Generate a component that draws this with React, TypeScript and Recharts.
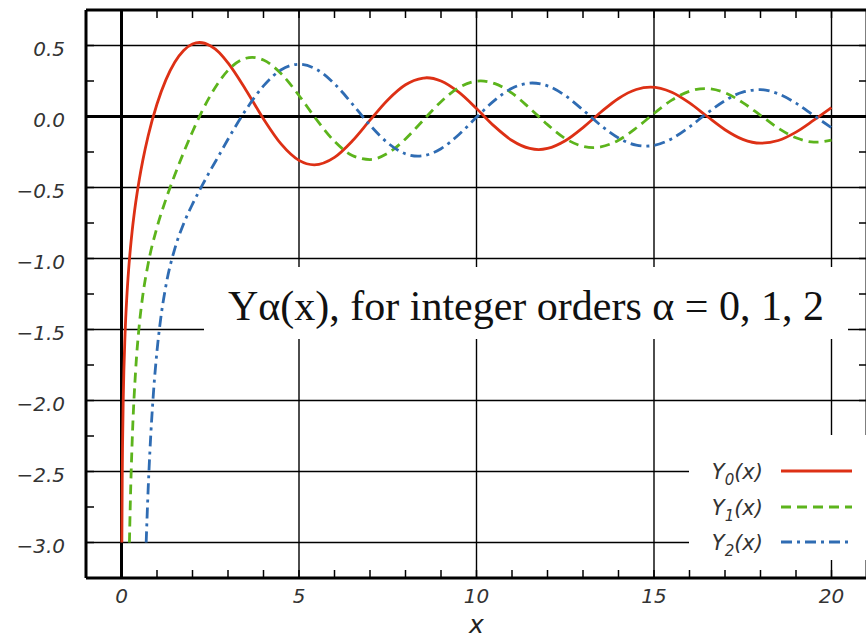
import { LineChart, Line, XAxis, YAxis, ReferenceLine } from 'recharts';

// Y0(x): sample positions and values (extrema included)
const y0X = [
  0.01, 0.02, 0.03, 0.05, 0.1, 0.15, 0.2, 0.25, 0.3, 0.4, 0.5, 0.6, 0.75, 1, 1.25, 1.5, 1.75, 2, 2.2, 2.5, 2.75, 3,
  3.5, 4, 4.5, 5, 5.43, 6, 6.5, 7, 7.5, 8, 8.5, 8.6, 9, 9.5, 10, 10.5, 11, 11.5, 11.75, 12, 12.5, 13, 13.5,
  14, 14.5, 14.9, 15.5, 16, 16.5, 17, 17.5, 18, 18.5, 19, 19.5, 20,
];
const y0Val = [
  -3.0, -2.564, -2.306, -1.979, -1.534, -1.271, -1.081, -0.932, -0.807, -0.606, -0.445, -0.309, -0.137, 0.088,
  0.258, 0.382, 0.465, 0.51, 0.521, 0.498, 0.451, 0.377,
  0.189, -0.017, -0.195, -0.309, -0.34, -0.288, -0.173, -0.026, 0.117, 0.224, 0.27, 0.273, 0.25, 0.171, 0.056,
  -0.068, -0.169, -0.225, -0.233, -0.225, -0.171, -0.078, 0.03,
  0.127, 0.19, 0.207, 0.171, 0.096, 0.0, -0.093, -0.161, -0.188, -0.169, -0.11, -0.026, 0.063,
];

// Y1(x)
const y1X = [
  0.2235, 0.25, 0.3, 0.4, 0.5, 0.6, 0.75, 1, 1.25, 1.5, 1.75, 2, 2.25, 2.5, 2.75, 3,
  3.5, 3.68, 4, 4.5, 5, 5.5, 6, 6.5, 7, 7.5, 8, 8.5, 9, 9.5, 10, 10.12, 10.5, 11, 11.5, 12, 12.5, 13, 13.29,
  13.5, 14, 14.5, 15, 15.5, 16, 16.44, 17, 17.5, 18, 18.5, 19, 19.5, 19.59, 20,
];
const y1Val = [
  -3.0, -2.704, -2.293, -1.781, -1.471, -1.26, -1.038, -0.781, -0.584, -0.412, -0.254, -0.107, 0.028, 0.146, 0.246, 0.325,
  0.41, 0.417, 0.398, 0.301, 0.148, -0.024, -0.175, -0.274, -0.303, -0.259, -0.158, -0.026, 0.104, 0.203, 0.249,
  0.251, 0.233, 0.164, 0.058, -0.057, -0.155, -0.21, -0.219,
  -0.214, -0.167, -0.081, 0.021, 0.115, 0.178, 0.197, 0.167, 0.098, 0.008, -0.082, -0.15, -0.18, -0.18, -0.166,
];

// Y2(x)
const y2X = [
  0.695, 0.75, 0.8, 0.9, 1, 1.1, 1.25, 1.5, 1.75, 2, 2.25, 2.5, 2.75, 3,
  3.5, 4, 4.5, 5, 5.5, 6, 6.5, 7, 7.5, 8, 8.35, 8.5, 9, 9.5, 10, 10.5, 11, 11.5, 11.57, 12, 12.5, 13, 13.5,
  14, 14.5, 14.76, 15, 15.5, 16, 16.5, 17, 17.5, 18, 18.5, 19, 19.5, 20,
];
const y2Val = [
  -3.0, -2.63, -2.359, -1.946, -1.651, -1.432, -1.193, -0.932, -0.755, -0.617, -0.496, -0.381, -0.272, -0.16,
  0.045, 0.216, 0.329, 0.368, 0.331, 0.23, 0.089, -0.061, -0.186, -0.263, -0.279, -0.276, -0.227, -0.128, -0.006,
  0.112, 0.199, 0.235, 0.236, 0.216, 0.147, 0.046, -0.062,
  -0.151, -0.202, -0.209, -0.203, -0.156, -0.073, 0.024, 0.112, 0.172, 0.189, 0.16, 0.094, 0.007, -0.079,
];

const xTicks = [-1, 0, 1, 2, 3, 4, 5, 6, 7, 8, 9, 10, 11, 12, 13, 14, 15, 16, 17, 18, 19, 20, 21];
const yTicks = [-3.25, -3, -2.75, -2.5, -2.25, -2, -1.75, -1.5, -1.25, -1, -0.75, -0.5, -0.25, 0, 0.25, 0.5, 0.75];
const xGrid = [5, 10, 15, 20];
const yGrid = [-3, -2.5, -2, -1.5, -1, -0.5, 0.5];

const X_DOMAIN: [number, number] = [-1, 21];
const Y_DOMAIN: [number, number] = [-3.25, 0.75];

const toPoints = (xs: number[], ys: number[]) => xs.map((x, i) => ({ x, y: ys[i] }));

const series = [
  { name: '0', data: toPoints(y0X, y0Val), color: '#dd3015', dash: undefined },
  { name: '1', data: toPoints(y1X, y1Val), color: '#5cb41c', dash: '10 6' },
  { name: '2', data: toPoints(y2X, y2Val), color: '#2f6cb3', dash: '11 5 3 5' },
];

const tickFont = { fontFamily: 'DejaVu Sans', fontStyle: 'italic', fontSize: 20, fill: '#333' };

const fmtX = (v: number) => (v % 5 === 0 ? String(v) : '');
const fmtY = (v: number) => {
  if (Math.abs(v * 2 - Math.round(v * 2)) > 1e-9) return '';
  return (v < 0 ? '\u2212' : '') + Math.abs(v).toFixed(1);
};
const blank = () => '';

function Legend() {
  const rows = [
    { sub: '0', color: series[0].color, dash: series[0].dash, y: 36 },
    { sub: '1', color: series[1].color, dash: series[1].dash, y: 72 },
    { sub: '2', color: series[2].color, dash: series[2].dash, y: 107 },
  ];
  return (
    <div style={{ position: 'absolute', left: 689, top: 435, width: 177, height: 125, background: '#fff' }}>
      <svg width={177} height={125}>
        {rows.map((r) => (
          <g key={r.sub}>
            <text x={74} y={r.y + 8} textAnchor="end" fontFamily="DejaVu Sans" fontStyle="italic" fontSize={21} fill="#333">
              Y<tspan dy={6} fontSize={15}>{r.sub}</tspan>
              <tspan dy={-6}>(x)</tspan>
            </text>
            <line x1={92} x2={163} y1={r.y} y2={r.y} stroke={r.color} strokeWidth={3} strokeDasharray={r.dash} />
          </g>
        ))}
      </svg>
    </div>
  );
}

export default function App() {
  return (
    <div style={{ position: 'absolute', left: 0, top: 0, width: 866, height: 639, overflow: 'hidden', background: '#fff' }}>
      <LineChart width={868} height={639} margin={{ top: 0, right: 0, bottom: 0, left: 0 }}>
        <XAxis
          type="number"
          dataKey="x"
          domain={X_DOMAIN}
          allowDataOverflow
          ticks={xTicks}
          interval={0}
          tickFormatter={fmtX}
          axisLine={false}
          tickSize={-8}
          tickMargin={19}
          tickLine={{ stroke: '#000', strokeWidth: 1.5 }}
          tick={tickFont}
          height={61}
          label={{ value: 'x', position: 'insideBottom', offset: 6, fontFamily: 'DejaVu Sans', fontStyle: 'italic', fontSize: 25, fill: '#222' }}
        />
        <XAxis
          xAxisId="top"
          orientation="top"
          type="number"
          dataKey="x"
          domain={X_DOMAIN}
          allowDataOverflow
          ticks={xTicks}
          interval={0}
          tickFormatter={blank}
          axisLine={false}
          tickSize={-8}
          tickLine={{ stroke: '#000', strokeWidth: 1.5 }}
          height={10}
        />
        <YAxis
          type="number"
          domain={Y_DOMAIN}
          allowDataOverflow
          ticks={yTicks}
          interval={0}
          tickFormatter={fmtY}
          axisLine={false}
          tickSize={-8}
          tickMargin={29}
          tickLine={{ stroke: '#000', strokeWidth: 1.5 }}
          tick={{ ...tickFont, dy: 3 }}
          width={86}
        />
        <YAxis
          yAxisId="right"
          orientation="right"
          type="number"
          domain={Y_DOMAIN}
          allowDataOverflow
          ticks={yTicks}
          interval={0}
          tickFormatter={blank}
          axisLine={false}
          tickSize={-8}
          tickLine={{ stroke: '#000', strokeWidth: 1.5 }}
          width={1}
        />

        {xGrid.map((v) => (
          <ReferenceLine key={'gx' + v} x={v} stroke="#000" strokeWidth={1.4} />
        ))}
        {yGrid.map((v) => (
          <ReferenceLine key={'gy' + v} y={v} stroke="#000" strokeWidth={1.4} />
        ))}
        <ReferenceLine x={0} stroke="#000" strokeWidth={3} />
        <ReferenceLine y={0} stroke="#000" strokeWidth={3} />

        {series.map((s) => (
          <Line
            key={s.name}
            data={s.data}
            dataKey="y"
            type="monotone"
            stroke={s.color}
            strokeWidth={2.8}
            strokeDasharray={s.dash}
            dot={false}
            activeDot={false}
            isAnimationActive={false}
          />
        ))}

        <ReferenceLine x={-1} stroke="#000" strokeWidth={3} />
        <ReferenceLine x={21} stroke="#000" strokeWidth={3} />
        <ReferenceLine y={0.75} stroke="#000" strokeWidth={3} />
        <ReferenceLine y={-3.25} stroke="#000" strokeWidth={3} />
      </LineChart>

      <div style={{ position: 'absolute', left: 204, top: 267, width: 644, height: 72, background: '#fff' }}>
        <svg width={644} height={72}>
          <text x={322} y={53} textAnchor="middle" fontFamily="Liberation Serif" fontSize={42} fill="#111">
            Yα(x), for integer orders α = 0, 1, 2
          </text>
        </svg>
      </div>
      <Legend />
    </div>
  );
}
